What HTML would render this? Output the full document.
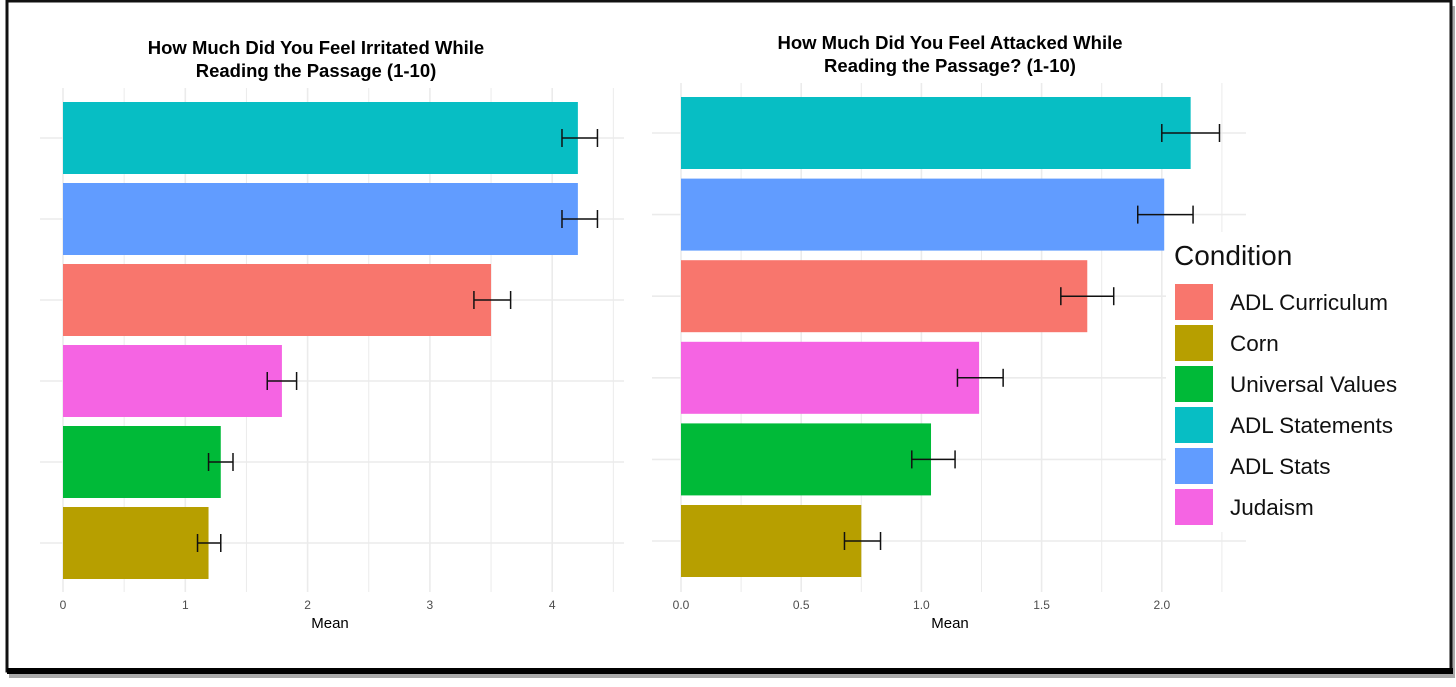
<!DOCTYPE html>
<html><head><meta charset="utf-8"><style>
body{margin:0;background:#fff;}
svg{display:block;font-family:"Liberation Sans",sans-serif;}
</style></head><body>
<svg width="1456" height="687" viewBox="0 0 1456 687">
<rect x="9" y="6" width="1446" height="672" fill="#555" opacity="0.5"/>
<rect x="7" y="1" width="1444" height="670" fill="#fff" stroke="#111" stroke-width="3"/>
<rect x="7" y="668" width="1446" height="6" fill="#000"/>
<g id="left"></g>
<g id="right"></g>
<g id="legend"></g>
</svg>
<script>
const categories = ["ADL Statements","ADL Stats","ADL Curriculum","Judaism","Universal Values","Corn"];
const colors = ["#07BEC4","#619CFF","#F8766D","#F564E3","#00BA38","#B79F00"];
const irritatedMean = [4.21,4.21,3.50,1.79,1.29,1.19];
const irritatedLow = [4.08,4.08,3.36,1.67,1.19,1.10];
const irritatedHigh = [4.37,4.37,3.66,1.91,1.39,1.29];
const attackedMean = [2.12,2.01,1.69,1.24,1.04,0.75];
const attackedLow = [2.00,1.90,1.58,1.15,0.96,0.68];
const attackedHigh = [2.24,2.13,1.80,1.34,1.14,0.83];
const leftTicks = [0,1,2,3,4];
const leftTickLabels = ["0","1","2","3","4"];
const rightTicks = [0,0.5,1.0,1.5,2.0];
const rightTickLabels = ["0.0","0.5","1.0","1.5","2.0"];
const legendOrder = ["ADL Curriculum","Corn","Universal Values","ADL Statements","ADL Stats","Judaism"];
const NS="http://www.w3.org/2000/svg";
function mk(p,t,a){const e=document.createElementNS(NS,t);for(const k in a)e.setAttribute(k,a[k]);p.appendChild(e);return e;}
function panel(gid,cfg){
  const g=document.getElementById(gid);
  const x=v=>cfg.x0+v*cfg.scale;
  const yc=i=>cfg.y0+i*cfg.pitch;
  for(let v=0;v<=cfg.gmax+1e-9;v+=cfg.step/2){
    const l=mk(g,'line',{x1:x(v),x2:x(v),y1:cfg.gTop,y2:cfg.gBot,stroke:'#ebebeb','stroke-width':Math.abs(v/cfg.step-Math.round(v/cfg.step))<1e-6?1.6:1});
    
    
  }
  categories.forEach((c,i)=>{
    const l=mk(g,'line',{x1:cfg.gL,x2:cfg.gR,y1:yc(i),y2:yc(i),stroke:'#ebebeb','stroke-width':1.6});
    
    
  });
  categories.forEach((c,i)=>{
    const r=mk(g,'rect',{x:x(0),y:yc(i)-cfg.bh/2,width:x(cfg.mean[i])-x(0),height:cfg.bh,fill:colors[i]});
    
    
    const eg=mk(g,'g',{stroke:'#111','stroke-width':1.5});
    
    
    mk(eg,'line',{x1:x(cfg.lo[i]),x2:x(cfg.hi[i]),y1:yc(i),y2:yc(i)});
    mk(eg,'line',{x1:x(cfg.lo[i]),x2:x(cfg.lo[i]),y1:yc(i)-9,y2:yc(i)+9});
    mk(eg,'line',{x1:x(cfg.hi[i]),x2:x(cfg.hi[i]),y1:yc(i)-9,y2:yc(i)+9});
  });
  cfg.ticks.forEach((v,i)=>{
    const t=mk(g,'text',{x:x(v),y:609,'text-anchor':'middle','font-size':12,fill:'#4d4d4d'});
    t.textContent=cfg.labels[i];
    
    
  });
  const xt=mk(g,'text',{x:cfg.xtx,y:628,'text-anchor':'middle','font-size':15,fill:'#000'});
  xt.textContent='Mean';
  
  
  cfg.title.forEach((s,i)=>{
    const t=mk(g,'text',{x:cfg.tx,y:cfg.ty+i*23,'text-anchor':'middle','font-size':18.5,'font-weight':'bold',fill:'#000'});
    t.textContent=s;
    
    
  });
}
panel('left',{x0:63,scale:122.3,y0:138,pitch:81,bh:72,gmax:4.5,step:1,gTop:88,gBot:592,gL:40,gR:624,
  mean:irritatedMean,lo:irritatedLow,hi:irritatedHigh,ticks:leftTicks,labels:leftTickLabels,xtx:330,tx:316,ty:54,
  title:["How Much Did You Feel Irritated While","Reading the Passage (1-10)"]});
panel('right',{x0:681,scale:240.4,y0:133,pitch:81.6,bh:72,gmax:2.25,step:0.5,gTop:83,gBot:592,gL:652,gR:1246,
  mean:attackedMean,lo:attackedLow,hi:attackedHigh,ticks:rightTicks,labels:rightTickLabels,xtx:950,tx:950,ty:49,
  title:["How Much Did You Feel Attacked While","Reading the Passage? (1-10)"]});
const lg=document.getElementById('legend');
mk(lg,'rect',{x:1166,y:232,width:282,height:300,fill:'#fff'});
const lt=mk(lg,'text',{x:1174,y:265,'font-size':28,fill:'#111'});
lt.textContent='Condition';


legendOrder.forEach((c,i)=>{
  const ci=categories.indexOf(c);
  const y=284+i*41;
  const r=mk(lg,'rect',{x:1175,y:y,width:38,height:36,fill:colors[ci]});
  
  
  const t=mk(lg,'text',{x:1230,y:y+26,'font-size':22.5,fill:'#111'});
  t.textContent=c;
  
  
});
</script>
</body></html>
